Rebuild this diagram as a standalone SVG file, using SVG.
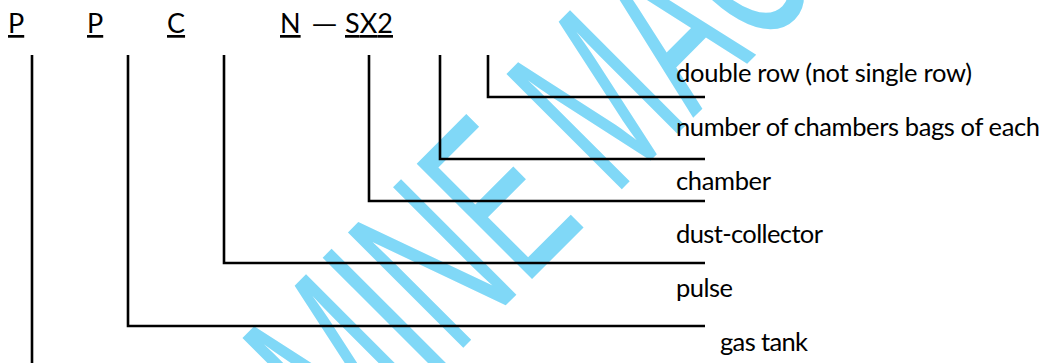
<svg xmlns="http://www.w3.org/2000/svg" width="1043" height="363" viewBox="0 0 1043 363">
  <style>
    .code { font-family: Lato, "Open Sans", "Liberation Sans", sans-serif; font-size: 27px; fill: #000; }
    .u { text-decoration: underline; }
    .label { font-family: Lato, "Open Sans", "Liberation Sans", sans-serif; font-size: 25.5px; fill: #000; }
    .wire { fill: none; stroke: #000; stroke-width: 2.6; stroke-linecap: butt; stroke-linejoin: miter; }
    .mark { font-family: "Liberation Sans", Arial, sans-serif; font-size: 237px; fill: #80d8f7; }
  </style>

  <rect width="1043" height="363" fill="#fff"/>

  <!-- background watermark, slanted and condensed -->
  <g id="watermark">
    <text class="mark" transform="translate(350 461) rotate(-45) scale(0.567 1)">MINE MAC</text>
  </g>

  <!-- model code letters -->
  <g id="code-p1"><text class="code u" x="8" y="33">P</text></g>
  <g id="code-p2"><text class="code u" x="87" y="33">P</text></g>
  <g id="code-c"><text class="code u" x="167" y="33">C</text></g>
  <g id="code-n"><text class="code u" x="280" y="33">N</text></g>
  <g id="code-dash"><text class="code" x="311" y="33" textLength="27" lengthAdjust="spacingAndGlyphs">—</text></g>
  <g id="code-sx2"><text class="code u" x="345" y="33" textLength="48" lengthAdjust="spacing">SX2</text></g>

  <!-- leader lines from each code letter to its meaning -->
  <g id="connectors">
    <path class="wire" d="M32 55 V363"/>
    <path class="wire" d="M128 55 V326 H705"/>
    <path class="wire" d="M224 55 V263 H705"/>
    <path class="wire" d="M369 55 V201 H705"/>
    <path class="wire" d="M440 55 V159 H705"/>
    <path class="wire" d="M488 55 V97 H705"/>
  </g>

  <!-- meanings -->
  <g id="label-double-row"><text class="label" x="676" y="82" textLength="296" lengthAdjust="spacing">double row (not single row)</text></g>
  <g id="label-bags"><text class="label" x="676" y="136" textLength="364" lengthAdjust="spacing">number of chambers bags of each</text></g>
  <g id="label-chamber"><text class="label" x="676" y="190" textLength="95" lengthAdjust="spacing">chamber</text></g>
  <g id="label-dust-collector"><text class="label" x="676" y="243" textLength="147" lengthAdjust="spacing">dust-collector</text></g>
  <g id="label-pulse"><text class="label" x="676" y="297" textLength="57" lengthAdjust="spacing">pulse</text></g>
  <g id="label-gas-tank"><text class="label" x="720" y="351" textLength="88" lengthAdjust="spacing">gas tank</text></g>
</svg>
